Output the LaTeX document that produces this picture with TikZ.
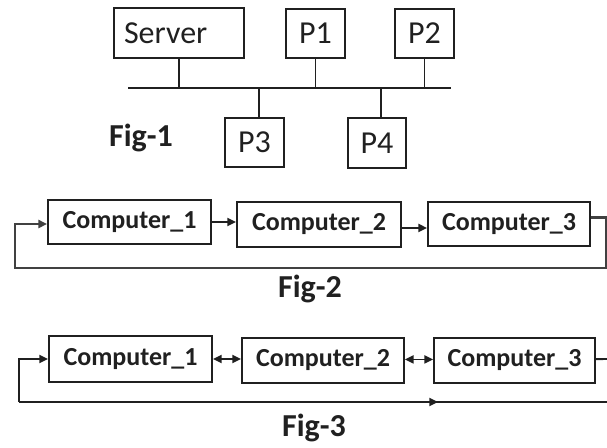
\documentclass[tikz,border=0pt]{standalone}
\usepackage{fontspec}
\setmainfont{Carlito}
\usetikzlibrary{arrows.meta,calc}
\definecolor{ink}{HTML}{202020}
\tikzset{
  box/.style={draw=ink, line width=1.4pt, rectangle, inner sep=0pt, text=ink},
  pbox/.style={box, font=\fontsize{24}{26}\selectfont},
  cbox/.style={box, font=\bfseries\fontsize{19.5}{21}\selectfont},
  wire/.style={draw=ink, line width=1.4pt},
  loopwire/.style={draw=ink!85, line width=1.8pt},
  tiphead/.tip={Triangle[length=6.5pt,width=6pt]},
  tip/.style={-tiphead},
  bothtips/.style={tiphead-tiphead},
  figlabel/.style={font=\bfseries\fontsize{24}{26}\selectfont, text=ink}
}
\begin{document}
\begin{tikzpicture}[x=0.75pt, y=-0.75pt]
\useasboundingbox (0,0) rectangle (607,447);

% ---- Fig-1: bus network ----
\node[pbox, minimum height=37.5pt, text width=82.5pt, inner xsep=7.5pt, align=left] (server) at (179,33) {Server};
\node[pbox, minimum width=44.25pt, minimum height=36.75pt] (p1) at (315.5,33.5) {P1};
\node[pbox, minimum width=44.25pt, minimum height=36.75pt] (p2) at (424.5,33.5) {P2};
\node[pbox, minimum width=44.25pt, minimum height=36.75pt] (p3) at (254.5,142.5) {P3};
\node[pbox, minimum width=43.5pt, minimum height=37.5pt] (p4) at (377,143) {P4};
\coordinate (busL) at (128,88);
\coordinate (busR) at (451,88);
\coordinate (b3) at (259,88);
\coordinate (b4) at (381,88);
\draw[wire] (busL) -- (busR);
\draw[wire] (server.south) -- (server.south |- busL);
\draw[wire] (p1.south) -- (p1.south |- busL);
\draw[wire] (p2.south) -- (p2.south |- busL);
\draw[wire] (b3) -- (b3 |- p3.north);
\draw[wire] (b4) -- (b4 |- p4.north);
\node[figlabel] (fig1) at (141,138) {Fig-1};

% ---- Fig-2: unidirectional ring ----
\node[cbox, minimum width=122.25pt, minimum height=33pt] (a1) at (129.5,222) {Computer\_1};
\node[cbox, minimum width=123pt, minimum height=33.75pt] (a2) at (319,224.5) {Computer\_2};
\node[cbox, minimum width=121.5pt, minimum height=33pt] (a3) at (509,224) {Computer\_3};
\draw[wire, tip] (a1.east) -- (a1.east -| a2.west);
\draw[wire, tip] ([yshift=-2.6pt]a2.east) -- ([yshift=-2.6pt]a2.east -| a3.west);
\coordinate (r2) at (606,268);
\coordinate (l2) at (15,268);
\draw[loopwire, tip] ([yshift=5pt]a3.east) -| (r2) -- (l2) |- ([yshift=-1.5pt]a1.west);
\node[figlabel] (fig2) at (310,289) {Fig-2};

% ---- Fig-3: bidirectional ring ----
\node[cbox, minimum width=122.25pt, minimum height=34.5pt] (c1) at (130.5,359) {Computer\_1};
\node[cbox, minimum width=121.5pt, minimum height=33.75pt] (c2) at (323,360.5) {Computer\_2};
\node[cbox, minimum width=120.75pt, minimum height=33.75pt] (c3) at (514.5,360.5) {Computer\_3};
\draw[wire, bothtips] (c1.east) -- (c1.east -| c2.west);
\draw[wire, bothtips] ([yshift=0.8pt]c2.east) -- ([yshift=0.8pt]c2.east -| c3.west);
\coordinate (r3) at (607,359);
\coordinate (l3) at (19,402);
\coordinate (m3) at (438,402);
\coordinate (e3) at (607,402);
\draw[wire] ([yshift=1pt]c3.east) -- (r3);
\draw[wire, tip] (l3) |- (c1.west);
\draw[wire] (l3) -- (e3);
\draw[wire, tip] (l3) -- (m3);
\node[figlabel] (fig3) at (314,428) {Fig-3};
\end{tikzpicture}
\end{document}
